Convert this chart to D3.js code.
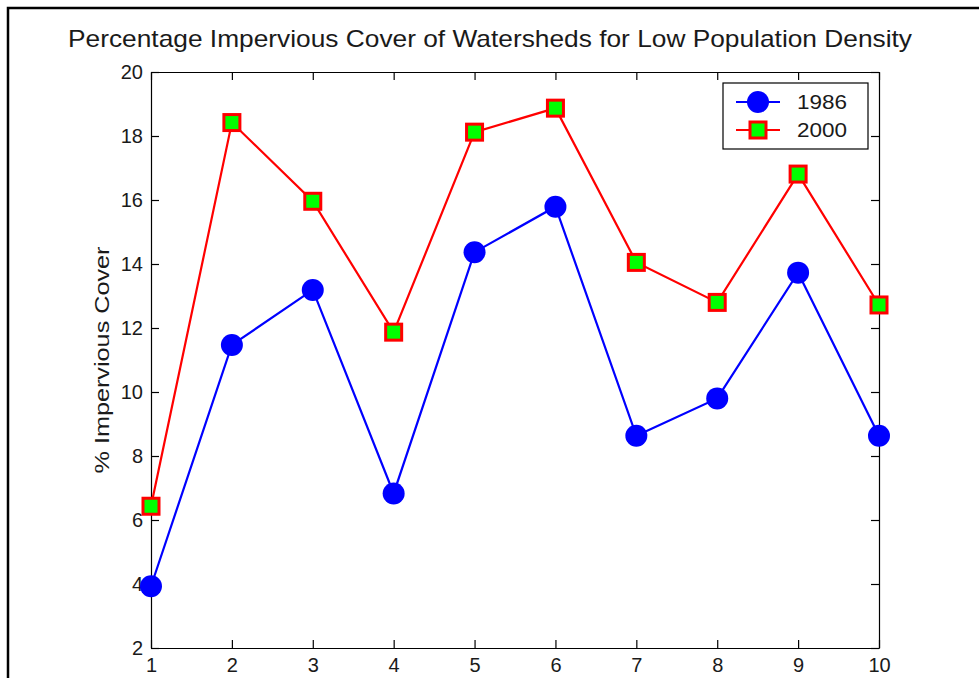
<!DOCTYPE html>
<html>
<head>
<meta charset="utf-8">
<script src="https://cdn.jsdelivr.net/npm/d3@7"></script>
<style>
  body { margin: 0; background: #fff; }
  svg { display: block; font-family: "Liberation Sans", Arial, Helvetica, sans-serif; }
  .axis text { font-size: 20px; fill: #1a1a1a; }
  .axis path, .axis line { stroke: #000; stroke-width: 1.2; }
</style>
</head>
<body>
<div id="chart"></div>
<script>
// data
const watersheds = [1, 2, 3, 4, 5, 6, 7, 8, 9, 10];
const cover1986 = [3.93, 11.47, 13.19, 6.83, 14.37, 15.79, 8.63, 9.8, 13.73, 8.63];
const cover2000 = [6.43, 18.42, 15.96, 11.87, 18.12, 18.87, 14.05, 12.8, 16.81, 12.72];
const yTicks = [2, 4, 6, 8, 10, 12, 14, 16, 18, 20];
const seriesNames = ["1986", "2000"];

const width = 979, height = 678;
const margin = { top: 72, right: 100, bottom: 30, left: 151 };

const svg = d3.select("#chart")
    .append("svg")
    .attr("width", width)
    .attr("height", height);

// figure frame (only top and left edges fall inside the picture)
svg.append("path")
    .attr("d", `M8,${height} L8,8 L${width},8`)
    .attr("fill", "none")
    .attr("stroke", "#000")
    .attr("stroke-width", 2.5);

const x = d3.scaleLinear().domain([1, 10]).range([margin.left, width - margin.right]);
const y = d3.scaleLinear().domain([2, 20]).range([height - margin.bottom, margin.top]);

// axes, MATLAB style box with inward ticks
svg.append("g")
    .attr("class", "axis")
    .attr("transform", `translate(0,${y(2)})`)
    .call(d3.axisBottom(x).tickValues(watersheds).tickSizeInner(-8).tickSizeOuter(0).tickPadding(10).tickFormat(d3.format("d")));

svg.append("g")
    .attr("class", "axis")
    .attr("transform", `translate(0,${y(20)})`)
    .call(d3.axisTop(x).tickValues(watersheds).tickSizeInner(-8).tickSizeOuter(0).tickFormat(""));

svg.append("g")
    .attr("class", "axis")
    .attr("transform", `translate(${x(1)},0)`)
    .call(d3.axisLeft(y).tickValues(yTicks).tickSizeInner(-8).tickSizeOuter(0).tickPadding(8).tickFormat(d3.format("d")));

svg.append("g")
    .attr("class", "axis")
    .attr("transform", `translate(${x(10)},0)`)
    .call(d3.axisRight(y).tickValues(yTicks).tickSizeInner(-8).tickSizeOuter(0).tickFormat(""));

// title and y label
svg.append("text")
    .attr("x", 490)
    .attr("y", 47)
    .attr("text-anchor", "middle")
    .attr("font-size", 24)
    .attr("fill", "#1a1a1a")
    .attr("textLength", 844)
    .attr("lengthAdjust", "spacingAndGlyphs")
    .text("Percentage Impervious Cover of Watersheds for Low Population Density");

svg.append("text")
    .attr("transform", `translate(109,${(y(2) + y(20)) / 2}) rotate(-90)`)
    .attr("text-anchor", "middle")
    .attr("font-size", 20)
    .attr("fill", "#1a1a1a")
    .attr("textLength", 227)
    .attr("lengthAdjust", "spacingAndGlyphs")
    .text("% Impervious Cover");

const line = d3.line()
    .x((d, i) => x(watersheds[i]))
    .y((d) => y(d));

// 1986: blue line with filled circles
svg.append("path")
    .datum(cover1986)
    .attr("d", line)
    .attr("fill", "none")
    .attr("stroke", "#0000ff")
    .attr("stroke-width", 2.2);

svg.selectAll(".c1986")
    .data(cover1986)
    .join("circle")
    .attr("class", "c1986")
    .attr("cx", (d, i) => x(watersheds[i]))
    .attr("cy", (d) => y(d))
    .attr("r", 11)
    .attr("fill", "#0000ff");

// 2000: red line with green squares
svg.append("path")
    .datum(cover2000)
    .attr("d", line)
    .attr("fill", "none")
    .attr("stroke", "#ff0000")
    .attr("stroke-width", 2.2);

svg.selectAll(".s2000")
    .data(cover2000)
    .join("rect")
    .attr("class", "s2000")
    .attr("x", (d, i) => x(watersheds[i]) - 8)
    .attr("y", (d) => y(d) - 8)
    .attr("width", 16)
    .attr("height", 16)
    .attr("fill", "#00ff00")
    .attr("stroke", "#ff0000")
    .attr("stroke-width", 3);

// legend
const legend = svg.append("g").attr("transform", "translate(723,83)");

legend.append("rect")
    .attr("width", 145)
    .attr("height", 66)
    .attr("fill", "#fff")
    .attr("stroke", "#000")
    .attr("stroke-width", 1.2);

const rows = [
    { name: seriesNames[0], color: "#0000ff", shape: "circle", dy: 19 },
    { name: seriesNames[1], color: "#ff0000", shape: "square", dy: 47 },
];

rows.forEach((r) => {
    const g = legend.append("g").attr("transform", `translate(0,${r.dy})`);
    g.append("line")
        .attr("x1", 13).attr("x2", 57)
        .attr("stroke", r.color)
        .attr("stroke-width", 2.2);
    if (r.shape === "circle") {
        g.append("circle").attr("cx", 35).attr("r", 11).attr("fill", r.color);
    } else {
        g.append("rect")
            .attr("x", 27).attr("y", -8)
            .attr("width", 16).attr("height", 16)
            .attr("fill", "#00ff00")
            .attr("stroke", "#ff0000")
            .attr("stroke-width", 3);
    }
    g.append("text")
        .attr("x", 74)
        .attr("dy", "0.36em")
        .attr("font-size", 20)
        .attr("fill", "#1a1a1a")
        .attr("textLength", 50)
        .attr("lengthAdjust", "spacingAndGlyphs")
        .text(r.name);
});
</script>
</body>
</html>
